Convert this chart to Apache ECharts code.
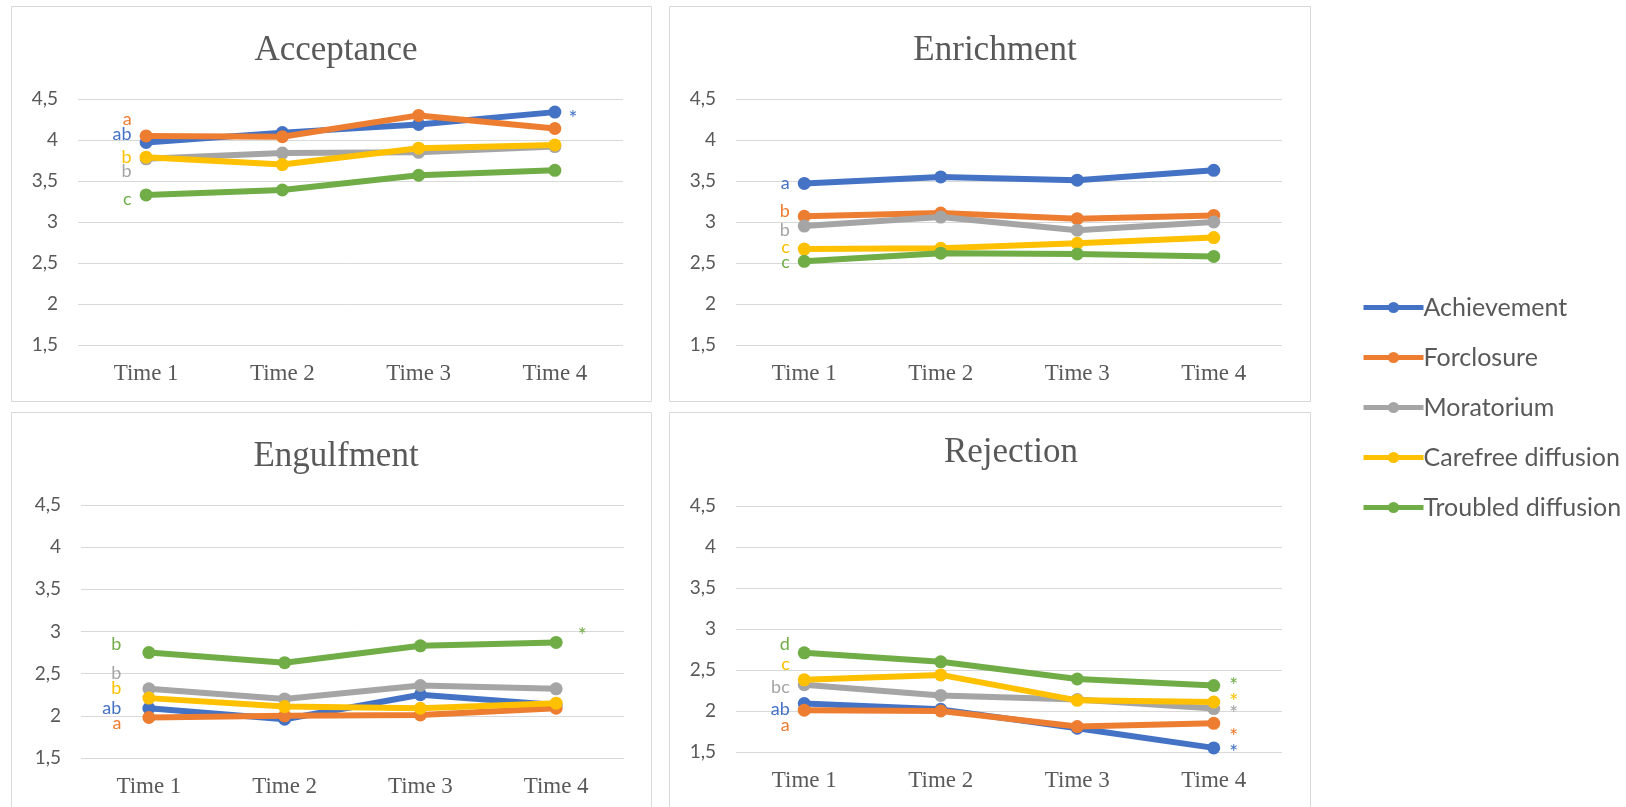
<!DOCTYPE html>
<html>
<head>
<meta charset="utf-8">
<script src="https://cdn.jsdelivr.net/npm/echarts@6/dist/echarts.min.js"></script>
<style>
  html, body { margin: 0; padding: 0; background: #fff; }
  #chart { width: 1626px; height: 807px; }
</style>
</head>
<body>
<div id="chart"></div>
<script>
// categories / groups / ticks
const categories = ['Time 1', 'Time 2', 'Time 3', 'Time 4'];
const groups = ['Achievement', 'Forclosure', 'Moratorium', 'Carefree diffusion', 'Troubled diffusion'];
const panelTitles = ['Acceptance', 'Enrichment', 'Engulfment', 'Rejection'];
const yTicks = [1.5, 2, 2.5, 3, 3.5, 4, 4.5];
const colors = ['#4472C4', '#ED7D31', '#A5A5A5', '#FFC000', '#70AD47'];

// values, one row per group (Achievement, Forclosure, Moratorium, Carefree, Troubled)
const acceptance = [
  [3.97, 4.09, 4.19, 4.34],
  [4.05, 4.04, 4.30, 4.14],
  [3.77, 3.84, 3.85, 3.92],
  [3.79, 3.70, 3.90, 3.94],
  [3.33, 3.39, 3.57, 3.63]
];
const enrichment = [
  [3.47, 3.55, 3.51, 3.63],
  [3.07, 3.11, 3.04, 3.08],
  [2.95, 3.06, 2.90, 3.00],
  [2.67, 2.68, 2.74, 2.81],
  [2.52, 2.62, 2.61, 2.58]
];
const engulfment = [
  [2.09, 1.96, 2.25, 2.13],
  [1.98, 2.00, 2.01, 2.09],
  [2.32, 2.20, 2.36, 2.32],
  [2.21, 2.11, 2.09, 2.15],
  [2.75, 2.63, 2.83, 2.87]
];
const rejection = [
  [2.09, 2.02, 1.79, 1.55],
  [2.01, 2.00, 1.81, 1.85],
  [2.32, 2.19, 2.14, 2.03],
  [2.38, 2.44, 2.13, 2.11],
  [2.71, 2.60, 2.39, 2.31]
];

// letters next to Time 1, stars next to Time 4
const accLetters = ['ab', 'a', 'b', 'b', 'c'];
const accStars   = ['*', '', '', '', ''];
const enrLetters = ['a', 'b', 'b', 'c', 'c'];
const enrStars   = ['', '', '', '', ''];
const engLetters = ['ab', 'a', 'b', 'b', 'b'];
const engStars   = ['', '', '', '', '*'];
const rejLetters = ['ab', 'a', 'bc', 'c', 'd'];
const rejStars   = ['*', '*', '*', '*', '*'];

// layout of the 4 panels (px)
const panels = [
  { box: [11, 6, 640, 395],  grid: { left: 78,  top: 99,  width: 545, height: 246 }, title: [331, 28],  letterDy: [-8, -17, 12, 0, 4],  letterDist: 8,  starDy: [3, 0, 0, 0, 0], starDist: 7 },
  { box: [669, 6, 641, 395], grid: { left: 736, top: 99,  width: 546, height: 246 }, title: [990, 28],  letterDy: [0, -5, 4, -2, 1],   letterDist: 8,  starDy: [0, 0, 0, 0, 0], starDist: 7 },
  { box: [11, 412, 640, 400], grid: { left: 81, top: 505, width: 543, height: 253 }, title: [331, 434], letterDy: [0, 6, -16, -10, -8], letterDist: 21, starDy: [0, 0, 0, 0, -10], starDist: 15 },
  { box: [669, 412, 641, 400], grid: { left: 736, top: 506, width: 546, height: 246 }, title: [1006, 430], letterDy: [6, 15, 2, -16, -9], letterDist: 8, starDy: [1, 10, 2, -4, -3], starDist: 9 }
];
const panelData = [acceptance, enrichment, engulfment, rejection];
const panelLetters = [accLetters, enrLetters, engLetters, rejLetters];
const panelStars = [accStars, enrStars, engStars, rejStars];

const grids = [], xAxes = [], yAxes = [], titles = [], series = [], graphics = [];

panels.forEach((p, pi) => {
  grids.push(Object.assign({ containLabel: false }, p.grid));
  graphics.push({
    type: 'rect', silent: true,
    shape: { x: p.box[0] + 0.5, y: p.box[1] + 0.5, width: p.box[2], height: p.box[3] },
    style: { fill: 'none', stroke: '#D9D9D9', lineWidth: 1 }
  });
  titles.push({
    text: panelTitles[pi],
    left: p.title[0], top: p.title[1], textAlign: 'center',
    textStyle: { fontFamily: 'Liberation Serif', fontSize: 35, fontWeight: 'normal', color: '#595959' }
  });
  xAxes.push({
    type: 'category', gridIndex: pi, data: categories,
    axisLine: { show: false }, axisTick: { show: false },
    axisLabel: { margin: 17, fontFamily: 'Liberation Serif', fontSize: 23, color: '#595959' }
  });
  yAxes.push({
    type: 'value', gridIndex: pi,
    min: yTicks[0], max: yTicks[yTicks.length - 1], interval: 0.5,
    axisLine: { show: false }, axisTick: { show: false },
    splitLine: { lineStyle: { color: '#D9D9D9', width: 1 } },
    axisLabel: {
      margin: 20, fontFamily: 'Lato', fontSize: 19, color: '#595959',
      formatter: v => String(v).replace('.', ',')
    }
  });

  panelData[pi].forEach((row, gi) => {
    const letter = panelLetters[pi][gi];
    const star = panelStars[pi][gi];
    const data = row.map((v, ci) => {
      const item = { value: v };
      if (ci === 0 && letter) {
        item.label = {
          show: true, position: 'left', distance: p.letterDist, formatter: letter,
          offset: [0, p.letterDy[gi]],
          fontFamily: 'Lato', fontSize: 18, color: colors[gi]
        };
      }
      if (ci === row.length - 1 && star) {
        item.label = {
          show: true, position: 'right', distance: p.starDist, formatter: star,
          offset: [0, p.starDy[gi] + 4],
          fontFamily: 'Lato', fontSize: 21, color: colors[gi]
        };
      }
      return item;
    });
    series.push({
      name: groups[gi], type: 'line',
      xAxisIndex: pi, yAxisIndex: pi,
      data: data,
      symbol: 'circle', symbolSize: 13,
      lineStyle: { width: 6, color: colors[gi] },
      itemStyle: { color: colors[gi] },
      label: { show: false },
      z: 2 + gi,
      animation: false
    });
  });
});

const chart = echarts.init(document.getElementById('chart'), null, { renderer: 'canvas' });
chart.setOption({
  animation: false,
  color: colors,
  title: titles,
  grid: grids,
  xAxis: xAxes,
  yAxis: yAxes,
  legend: {
    orient: 'vertical', left: 1356, top: 290,
    data: groups,
    itemWidth: 60, itemHeight: 14, itemGap: 25,
    lineStyle: { width: 5 },
    textStyle: { fontFamily: 'Lato', fontSize: 25, color: '#595959', padding: [0, 0, 0, -5] }
  },
  graphic: graphics,
  series: series
});
</script>
</body>
</html>
